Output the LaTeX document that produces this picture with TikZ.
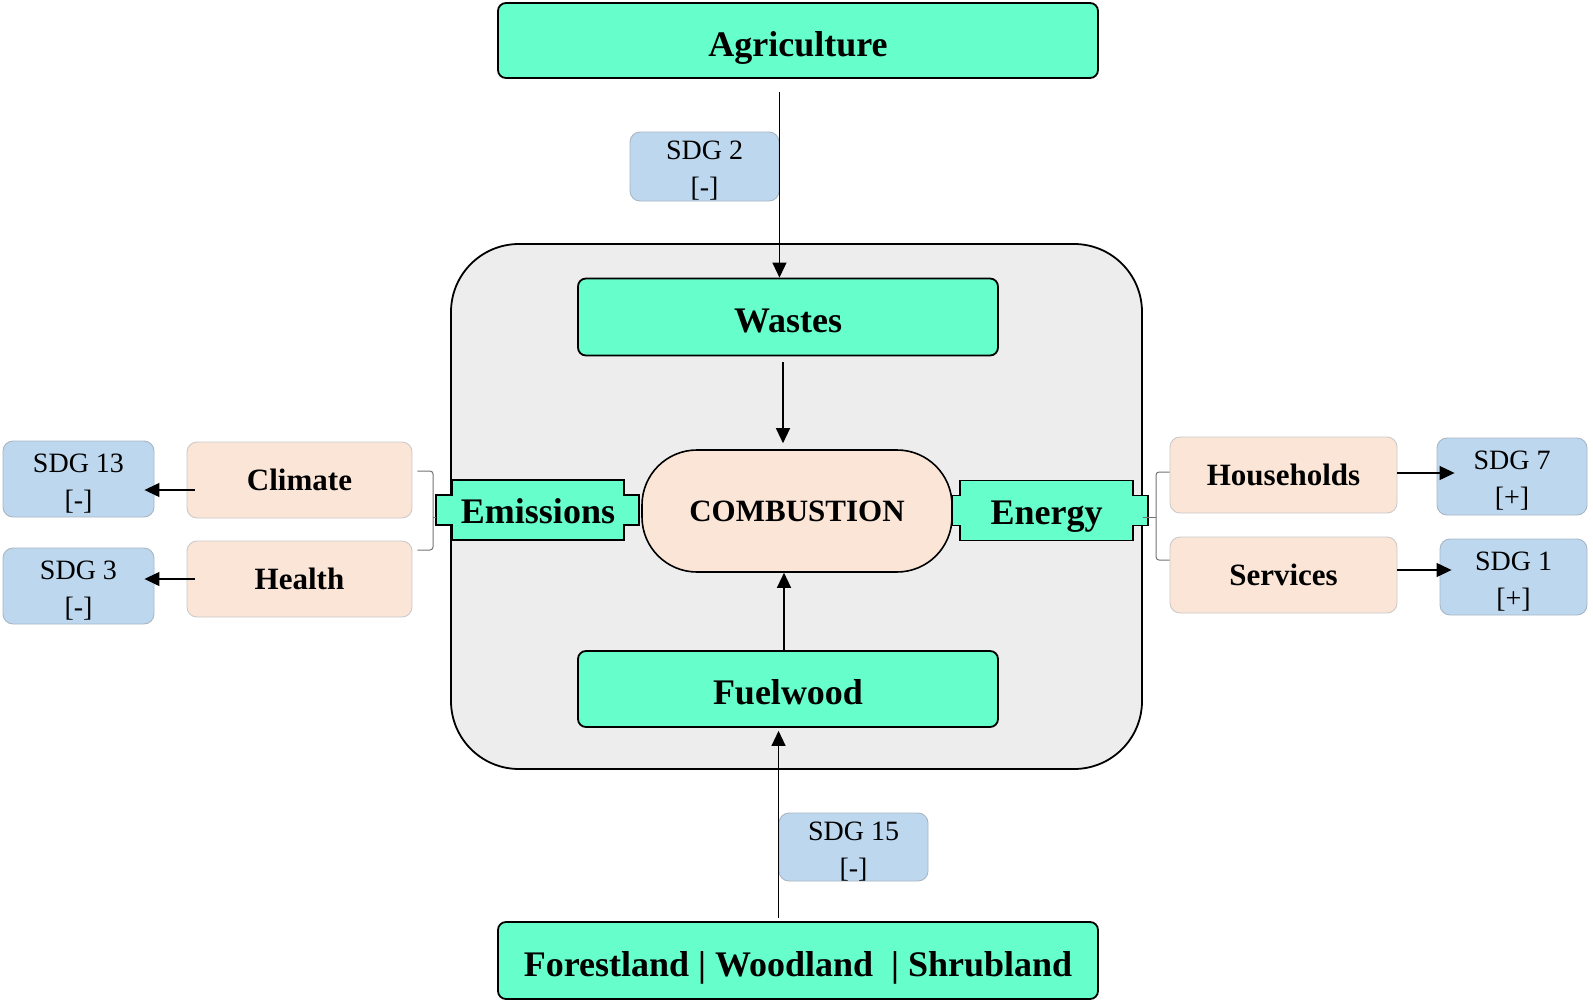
\documentclass[tikz,border=0pt]{standalone}
\usepackage{fontspec}
\setmainfont{Liberation Serif}
\usepackage{tikz}
\usetikzlibrary{calc}
\usetikzlibrary{arrows.meta}
\usetikzlibrary{positioning}
\definecolor{sdggreen}{HTML}{66FFCC}
\definecolor{peach}{HTML}{FBE5D6}
\definecolor{sdgblue}{HTML}{BDD7EE}
\definecolor{panel}{HTML}{EDEDED}
\definecolor{peachline}{HTML}{CACACA}
\definecolor{blueline}{HTML}{A8B6C4}
\newcommand{\sdgtop}{\rule{0pt}{27pt}}
\tikzstyle{panelbox} = [rectangle, rounded corners=68pt, draw=black, line width=1.8pt, fill=panel]
\tikzstyle{greenbox} = [rectangle, rounded corners=8pt, draw=black, line width=1.8pt, fill=sdggreen, text height=31pt, text depth=0pt, font=\bfseries\fontsize{36}{42}\selectfont]
\tikzstyle{combbox} = [rectangle, rounded corners=55pt, draw=black, line width=1.6pt, fill=peach, minimum width=310pt, minimum height=122pt, font=\bfseries\fontsize{31}{37}\selectfont]
\tikzstyle{peachbox} = [rectangle, rounded corners=10pt, draw=peachline, line width=0.9pt, fill=peach, minimum width=225pt, minimum height=76pt, font=\bfseries\fontsize{31}{37}\selectfont]
\tikzstyle{sdgbox} = [rectangle, rounded corners=10pt, draw=blueline, line width=0.9pt, fill=sdgblue, align=center, inner sep=0pt, font=\fontsize{28}{37}\selectfont]
\tikzstyle{bannerbox} = [rectangle, draw=none, outer sep=0pt, minimum height=60pt]
\tikzstyle{bannerline} = [draw=black, line width=1.6pt, fill=sdggreen]
\tikzstyle{bannertext} = [draw=none, inner sep=0pt, text height=27pt, text depth=0pt, font=\bfseries\fontsize{36}{42}\selectfont]
\tikzstyle{bracket} = [-, draw=black!55, line width=1pt, rounded corners=3pt]
\tikzstyle{flow} = [-{Triangle[length=15pt,width=14pt]}, line width=1.2pt]

\begin{document}
\begin{tikzpicture}[x=1pt, y=-1pt]
\useasboundingbox (0,0) rectangle (1593,1004);
% grey panel round the combustion process
\node [panelbox, minimum width=691pt, minimum height=525pt] (panel) at (796.5,506.5) {};

\node [greenbox, minimum width=600pt, minimum height=75pt] (agri) at (798,40.5) {Agriculture};
\node [sdgbox, minimum width=149pt, minimum height=69pt] (sdg2) at (704.5,166.5) {\sdgtop SDG 2\\{[-]}};
\node [greenbox, minimum width=420pt, minimum height=77pt] (wastes) at (788,317) {Wastes};
\node [combbox] (comb) at (797,511) {COMBUSTION};
\node [greenbox, minimum width=420pt, minimum height=76pt] (fuel) at (788,689) {Fuelwood};
\node [sdgbox, minimum width=149pt, minimum height=68pt] (sdg15) at (853.5,847) {\sdgtop SDG 15\\{[-]}};
\node [greenbox, minimum width=600pt, minimum height=77pt] (forest) at (798,960.5) {Forestland | Woodland\ \ | Shrubland};

% left side
\node [peachbox] (climate) at (299.5,480) {Climate};
\node [peachbox] (health) at (299.5,579) {Health};
\node [sdgbox, minimum width=151pt, minimum height=76pt] (sdg13) at (78.5,479) {\sdgtop SDG 13\\{[-]}};
\node [sdgbox, minimum width=151pt, minimum height=76pt] (sdg3) at (78.5,586) {\sdgtop SDG 3\\{[-]}};

% right side
\node [peachbox, minimum width=227pt] (house) at (1283.5,475) {Households};
\node [peachbox, minimum width=227pt] (serv) at (1283.5,575) {Services};
\node [sdgbox, minimum width=150pt, minimum height=77pt] (sdg7) at (1512,476.5) {\sdgtop SDG 7\\{[+]}};
\node [sdgbox, minimum width=147pt, minimum height=76pt] (sdg1) at (1513.5,577) {\sdgtop SDG 1\\{[+]}};

% banners with tabs
\node [bannerbox, minimum width=172pt] (emis) at (538,510) {};
\draw [bannerline] (emis.north west) -- (emis.north east) -- ++(0,15) -- ++(15,0) -- ++(0,30) -- ++(-15,0)
  -- (emis.south east) -- (emis.south west) -- ++(0,-15) -- ++(-16,0) -- ++(0,-30) -- ++(16,0) -- cycle;
\node [bannertext] at (emis) {Emissions};
\node [bannerbox, minimum width=173pt] (energy) at (1046.5,510.5) {};
\draw [bannerline] (energy.north west) -- (energy.north east) -- ++(0,15) -- ++(15,0) -- ++(0,30) -- ++(-15,0)
  -- (energy.south east) -- (energy.south west) -- ++(0,-15) -- ++(-8,0) -- ++(0,-30) -- ++(8,0) -- cycle;
\node [bannertext] at (energy) {Energy};

% brackets
\coordinate (lbr) at (433,517);
\draw [bracket] ([xshift=5pt,yshift=9pt]climate.east) -| (lbr) |- ([xshift=5pt,yshift=29pt]health.east);
\draw [bracket] (lbr) -- ([xshift=-16pt]emis.west |- lbr);
\coordinate (rbr) at (1156,517);
\draw [bracket] ([yshift=3pt]house.west) -| (rbr) |- ([yshift=15pt]serv.west);
\draw [bracket] (rbr) -- ([xshift=10pt]energy.east |- rbr);

% flows
\draw [flow] ([yshift=-13pt]agri.south -| sdg2.east) -- (wastes.north -| sdg2.east);
\draw [flow, shorten <=6pt, shorten >=6pt] ([xshift=-5pt]wastes.south) -- ([xshift=-5pt]wastes.south |- comb.north);
\draw [flow] ([xshift=-4pt]fuel.north) -- ([xshift=-4pt]fuel.north |- comb.south);
\draw [flow, shorten <=3pt, shorten >=3pt] (forest.north -| sdg15.west) -- (fuel.south -| sdg15.west);
\draw [flow, shorten <=-8pt, shorten >=-10pt] ([yshift=-10pt]climate.west) -- ([yshift=-10pt]climate.west -| sdg13.east);
\draw [flow, shorten <=-8pt, shorten >=-10pt] (health.west) -- (health.west -| sdg3.east);
\draw [flow, shorten >=-18pt] ([yshift=2pt]house.east) -- ([yshift=2pt]house.east -| sdg7.west);
\draw [flow, shorten >=-12pt] ([yshift=5pt]serv.east) -- ([yshift=5pt]serv.east -| sdg1.west);
\end{tikzpicture}
\end{document}
